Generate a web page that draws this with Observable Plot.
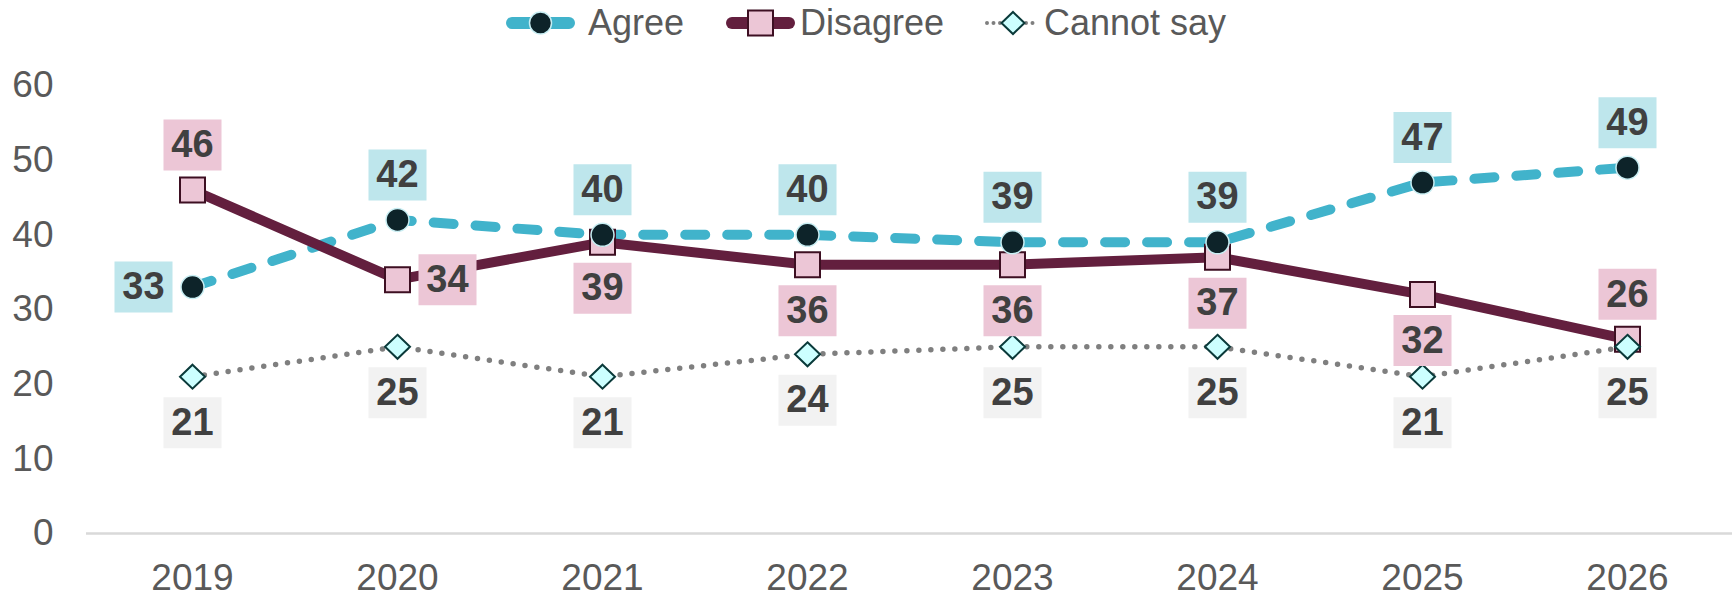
<!DOCTYPE html>
<html>
<head>
<meta charset="utf-8">
<script src="https://cdn.jsdelivr.net/npm/d3@7"></script>
<script src="https://cdn.jsdelivr.net/npm/@observablehq/plot@0.6"></script>
<style>
  html, body { margin: 0; padding: 0; background: #fff; }
  body { width: 1736px; height: 595px; overflow: hidden; font-family: "Liberation Sans", Arial, sans-serif; }
  #legend { position: relative; height: 50px; width: 1736px; }
  .item { position: absolute; top: 0; height: 46px; display: flex; align-items: center; font-size: 36px; color: #595959; }
  .item svg { display: block; }
</style>
</head>
<body>
<div id="legend"></div>
<div id="chart"></div>
<script>
// ---- data ----
const years = ["2019", "2020", "2021", "2022", "2023", "2024", "2025", "2026"];
const agree = [33, 42, 40, 40, 39, 39, 47, 49];
const disagree = [46, 34, 39, 36, 36, 37, 32, 26];
const cannotSay = [21, 25, 21, 24, 25, 25, 21, 25];
const seriesNames = ["Agree", "Disagree", "Cannot say"];
const yTicks = [0, 10, 20, 30, 40, 50, 60];
// label placement relative to each point
const agreeLabelPos = ["left", "above", "above", "above", "above", "above", "above", "above"];
const disagreeLabelPos = ["above", "right", "below", "below", "below", "below", "below", "above"];
const cannotLabelPos = ["below", "below", "below", "below", "below", "below", "below", "below"];

// ---- styles ----
const styles = {
  "Agree": {line: "#41B3CB", width: 10, dash: "20,22", box: "#BEE6EC", values: agree, pos: agreeLabelPos},
  "Disagree": {line: "#631F3E", width: 10, dash: null, box: "#ECC6D6", values: disagree, pos: disagreeLabelPos},
  "Cannot say": {line: "#7F7F7F", width: 5.5, dash: "0,12", box: "#F2F2F2", values: cannotSay, pos: cannotLabelPos}
};
const offsets = {above: [0, -45], below: [0, 46], left: [-49, 0], right: [50, 0]};

const table = seriesNames.flatMap(s => years.map((y, i) => ({series: s, year: y, value: styles[s].values[i], pos: styles[s].pos[i]})));
const of = s => table.filter(d => d.series === s);

const squareSym = {draw(ctx) { ctx.moveTo(-12.5, -12.5); ctx.lineTo(12.5, -12.5); ctx.lineTo(12.5, 12.5); ctx.lineTo(-12.5, 12.5); ctx.closePath(); }};
const diamondSym = {draw(ctx) { ctx.moveTo(0, -12); ctx.lineTo(12.5, 0); ctx.lineTo(0, 12); ctx.lineTo(-12.5, 0); ctx.closePath(); }};
const boxSym = {draw(ctx) { ctx.moveTo(-29, -25.5); ctx.lineTo(29, -25.5); ctx.lineTo(29, 25.5); ctx.lineTo(-29, 25.5); ctx.closePath(); }};

const marks = [
  Plot.ruleY([0], {stroke: "#D9D9D9", strokeWidth: 2.5}),
  Plot.axisY({ticks: yTicks, tickSize: 0, tickPadding: 33, fontSize: 37, fill: "#595959", label: null}),
  Plot.axisX({tickSize: 0, tickPadding: 30, fontSize: 37, fill: "#595959", label: null})
];
for (const s of seriesNames) {
  const st = styles[s];
  marks.push(Plot.line(of(s), {x: "year", y: "value", stroke: st.line, strokeWidth: st.width,
    strokeDasharray: st.dash || undefined, strokeLinecap: st.dash ? "round" : "butt", strokeLinejoin: "round"}));
}
marks.push(Plot.dot(of("Disagree"), {x: "year", y: "value", symbol: squareSym, r: 5, fill: "#ECC6D6", stroke: "#3D0F22", strokeWidth: 2}));
marks.push(Plot.dot(of("Agree"), {x: "year", y: "value", symbol: "circle", r: 11.5, fill: "#0D2329", stroke: "#C8EEF3", strokeWidth: 1.5}));
marks.push(Plot.dot(of("Cannot say"), {x: "year", y: "value", symbol: diamondSym, r: 5, fill: "#CCFFFF", stroke: "#0A3A3A", strokeWidth: 2}));
for (const s of seriesNames) {
  for (const p of Object.keys(offsets)) {
    const data = of(s).filter(d => d.pos === p);
    if (!data.length) continue;
    const [dx, dy] = offsets[p];
    marks.push(Plot.dot(data, {x: "year", y: "value", symbol: boxSym, r: 5, fill: styles[s].box, dx, dy}));
    marks.push(Plot.text(data, {x: "year", y: "value", text: d => String(d.value), dx, dy,
      fontSize: 38, fontWeight: "bold", fill: "#404040", textAnchor: "middle"}));
  }
}

const chart = Plot.plot({
  width: 1736,
  height: 545,
  marginTop: 35,
  marginBottom: 62,
  marginLeft: 86,
  marginRight: 4,
  style: {fontFamily: "'Liberation Sans', Arial, sans-serif", background: "#fff", overflow: "visible"},
  x: {type: "point", domain: years, padding: 0.5},
  y: {domain: [0, 60]},
  marks
});
document.getElementById("chart").appendChild(chart);

// ---- legend ----
const legend = document.getElementById("legend");
const legendItems = [
  {name: "Agree", left: 504, sw: 73, gap: 11},
  {name: "Disagree", left: 724, sw: 73, gap: 3},
  {name: "Cannot say", left: 984, sw: 58, gap: 2}
];
for (const it of legendItems) {
  const st = styles[it.name];
  const div = document.createElement("div");
  div.className = "item";
  div.style.left = it.left + "px";
  const h = 46, cy = h / 2, cx = it.sw / 2;
  let marker = "";
  if (it.name === "Agree") marker = `<circle cx="${cx}" cy="${cy}" r="11" fill="#0D2329" stroke="#C8EEF3" stroke-width="1.5"/>`;
  if (it.name === "Disagree") marker = `<rect x="${cx - 12.5}" y="${cy - 12.5}" width="25" height="25" fill="#ECC6D6" stroke="#3D0F22" stroke-width="2"/>`;
  if (it.name === "Cannot say") marker = `<path d="M${cx},${cy - 11}L${cx + 11.5},${cy}L${cx},${cy + 11}L${cx - 11.5},${cy}Z" fill="#CCFFFF" stroke="#0A3A3A" stroke-width="2"/>`;
  const dotted = it.name === "Cannot say";
  const lw = dotted ? 4 : 12;
  const x1 = dotted ? 3 : lw / 2 + 2, x2 = dotted ? it.sw - 3 : it.sw - lw / 2 - 2;
  const dash = dotted ? `stroke-dasharray="0,6.5"` : "";
  div.innerHTML = `<svg width="${it.sw}" height="${h}"><line x1="${x1}" x2="${x2}" y1="${cy}" y2="${cy}" stroke="${st.line}" stroke-width="${lw}" ${dash} stroke-linecap="round"/>${marker}</svg><span style="margin-left:${it.gap}px">${it.name}</span>`;
  legend.appendChild(div);
}
</script>
</body>
</html>
